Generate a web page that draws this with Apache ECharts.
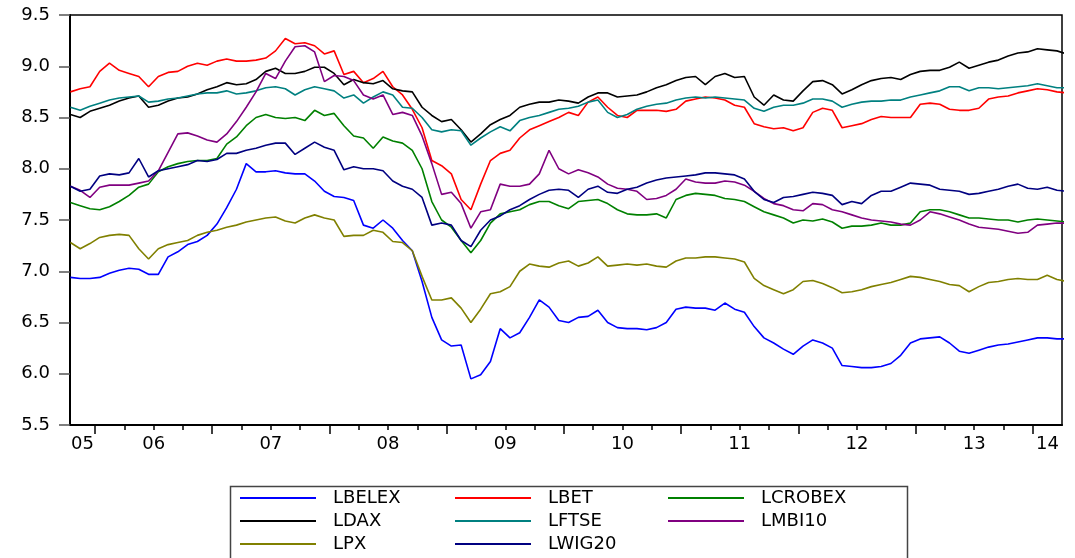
<!DOCTYPE html>
<html>
<head>
<meta charset="utf-8">
<script src="https://cdn.jsdelivr.net/npm/echarts@6.0.0/dist/echarts.min.js"></script>
<style>
html,body{margin:0;padding:0;background:#fff;}
#chart{width:1075px;height:558px;}
</style>
</head>
<body>
<div id="chart"></div>
<script>
// Monthly observations, first point mid-October 2005
const START = 2005.79;
const STEP = 1 / 12;

const LBELEX = [6.94,6.93,6.93,6.94,6.98,7.01,7.03,7.02,6.97,6.97,
 7.14,7.19,7.26,7.29,7.35,7.46,7.62,7.80,8.05,7.97,
 7.97,7.98,7.96,7.95,7.95,7.88,7.78,7.73,7.72,7.69,
 7.45,7.42,7.50,7.42,7.30,7.20,6.90,6.55,6.33,6.27,
 6.28,5.95,5.99,6.12,6.44,6.35,6.40,6.55,6.72,6.65,
 6.52,6.50,6.55,6.56,6.62,6.50,6.45,6.44,6.44,6.43,
 6.45,6.50,6.63,6.65,6.64,6.64,6.62,6.69,6.63,6.60,
 6.46,6.35,6.30,6.24,6.19,6.27,6.33,6.30,6.25,6.08,
 6.07,6.06,6.06,6.07,6.10,6.18,6.30,6.34,6.35,6.36,
 6.30,6.22,6.20,6.23,6.26,6.28,6.29,6.31,6.33,6.35,
 6.35,6.34,6.34];

const LBET = [8.75,8.78,8.80,8.95,9.03,8.96,8.93,8.90,8.80,8.90,
 8.94,8.95,9.00,9.03,9.01,9.05,9.07,9.05,9.05,9.06,
 9.08,9.15,9.27,9.22,9.23,9.20,9.12,9.15,8.92,8.95,
 8.84,8.88,8.95,8.80,8.72,8.58,8.40,8.08,8.03,7.95,
 7.70,7.60,7.85,8.08,8.15,8.18,8.30,8.38,8.42,8.46,
 8.50,8.55,8.52,8.65,8.70,8.60,8.52,8.50,8.57,8.57,
 8.57,8.56,8.58,8.66,8.68,8.70,8.69,8.67,8.62,8.60,
 8.44,8.41,8.39,8.40,8.37,8.40,8.55,8.59,8.57,8.40,
 8.42,8.44,8.48,8.51,8.50,8.50,8.50,8.63,8.64,8.63,
 8.58,8.57,8.57,8.59,8.68,8.70,8.71,8.74,8.76,8.78,
 8.77,8.75,8.74];

const LCROBEX = [7.67,7.64,7.61,7.60,7.63,7.68,7.74,7.82,7.85,7.97,
 8.02,8.05,8.07,8.08,8.08,8.10,8.24,8.31,8.42,8.50,
 8.53,8.50,8.49,8.50,8.47,8.57,8.52,8.54,8.42,8.32,
 8.30,8.20,8.31,8.27,8.25,8.18,8.00,7.68,7.50,7.43,
 7.30,7.18,7.30,7.47,7.56,7.58,7.60,7.65,7.68,7.68,
 7.64,7.61,7.68,7.69,7.70,7.66,7.60,7.56,7.55,7.55,
 7.56,7.52,7.70,7.74,7.76,7.75,7.74,7.71,7.70,7.68,
 7.63,7.58,7.55,7.52,7.47,7.50,7.49,7.51,7.48,7.42,
 7.44,7.44,7.45,7.47,7.45,7.45,7.47,7.58,7.60,7.60,
 7.58,7.55,7.52,7.52,7.51,7.50,7.50,7.48,7.50,7.51,
 7.50,7.49,7.48];

const LDAX = [8.53,8.50,8.56,8.59,8.62,8.66,8.69,8.71,8.60,8.62,
 8.66,8.69,8.70,8.73,8.77,8.80,8.84,8.82,8.83,8.87,
 8.95,8.98,8.93,8.93,8.95,8.99,8.99,8.93,8.82,8.87,
 8.84,8.83,8.86,8.78,8.76,8.75,8.60,8.52,8.46,8.48,
 8.38,8.26,8.34,8.43,8.48,8.52,8.60,8.63,8.65,8.65,
 8.67,8.66,8.64,8.70,8.74,8.74,8.70,8.71,8.72,8.75,
 8.79,8.82,8.86,8.89,8.90,8.82,8.90,8.93,8.89,8.90,
 8.70,8.62,8.72,8.67,8.66,8.76,8.85,8.86,8.82,8.73,
 8.77,8.82,8.86,8.88,8.89,8.87,8.92,8.95,8.96,8.96,
 8.99,9.04,8.98,9.01,9.04,9.06,9.10,9.13,9.14,9.17,
 9.16,9.15,9.12];

const LFTSE = [8.60,8.57,8.61,8.64,8.67,8.69,8.70,8.71,8.65,8.66,
 8.68,8.69,8.71,8.73,8.74,8.74,8.76,8.73,8.74,8.76,
 8.79,8.80,8.78,8.72,8.77,8.80,8.78,8.76,8.69,8.72,
 8.64,8.70,8.75,8.72,8.60,8.59,8.50,8.38,8.36,8.38,
 8.37,8.23,8.30,8.36,8.41,8.37,8.47,8.50,8.52,8.55,
 8.58,8.59,8.61,8.65,8.67,8.55,8.50,8.53,8.58,8.61,
 8.63,8.64,8.67,8.69,8.70,8.69,8.70,8.69,8.68,8.67,
 8.59,8.56,8.60,8.62,8.62,8.64,8.68,8.68,8.66,8.60,
 8.63,8.65,8.66,8.66,8.67,8.67,8.70,8.72,8.74,8.76,
 8.80,8.80,8.76,8.79,8.79,8.78,8.79,8.80,8.81,8.83,
 8.81,8.79,8.79];

const LMBI10 = [7.83,7.79,7.72,7.82,7.84,7.84,7.84,7.86,7.88,7.98,
 8.16,8.34,8.35,8.32,8.28,8.26,8.34,8.46,8.60,8.75,
 8.93,8.88,9.05,9.19,9.20,9.14,8.85,8.91,8.90,8.86,
 8.72,8.68,8.72,8.53,8.55,8.52,8.32,8.05,7.75,7.77,
 7.66,7.42,7.58,7.60,7.85,7.83,7.83,7.85,7.95,8.18,
 8.00,7.95,7.99,7.96,7.92,7.85,7.81,7.80,7.78,7.70,
 7.71,7.74,7.80,7.90,7.87,7.86,7.86,7.88,7.87,7.84,
 7.78,7.71,7.66,7.64,7.60,7.59,7.66,7.65,7.60,7.58,
 7.55,7.52,7.50,7.49,7.48,7.46,7.45,7.50,7.58,7.56,
 7.53,7.50,7.46,7.43,7.42,7.41,7.39,7.37,7.38,7.45,
 7.46,7.47,7.47];

const LPX = [7.28,7.22,7.27,7.33,7.35,7.36,7.35,7.22,7.12,7.22,
 7.26,7.28,7.30,7.35,7.38,7.40,7.43,7.45,7.48,7.50,
 7.52,7.53,7.49,7.47,7.52,7.55,7.52,7.50,7.34,7.35,
 7.35,7.40,7.38,7.29,7.28,7.20,6.95,6.72,6.72,6.74,
 6.64,6.50,6.63,6.78,6.80,6.85,7.00,7.07,7.05,7.04,
 7.08,7.10,7.05,7.08,7.14,7.05,7.06,7.07,7.06,7.07,
 7.05,7.04,7.10,7.13,7.13,7.14,7.14,7.13,7.12,7.09,
 6.93,6.86,6.82,6.78,6.82,6.90,6.91,6.88,6.84,6.79,
 6.80,6.82,6.85,6.87,6.89,6.92,6.95,6.94,6.92,6.90,
 6.87,6.86,6.80,6.85,6.89,6.90,6.92,6.93,6.92,6.92,
 6.96,6.92,6.90];

const LWIG20 = [7.83,7.78,7.80,7.93,7.95,7.94,7.96,8.10,7.92,7.98,
 8.00,8.02,8.04,8.08,8.07,8.09,8.15,8.15,8.18,8.20,
 8.23,8.25,8.25,8.14,8.20,8.26,8.21,8.18,7.99,8.02,
 8.00,8.00,7.98,7.88,7.83,7.80,7.72,7.45,7.47,7.45,
 7.30,7.24,7.40,7.50,7.54,7.60,7.64,7.70,7.75,7.79,
 7.80,7.79,7.72,7.80,7.83,7.77,7.76,7.80,7.82,7.86,
 7.89,7.91,7.92,7.93,7.94,7.96,7.96,7.95,7.94,7.90,
 7.78,7.70,7.67,7.72,7.73,7.75,7.77,7.76,7.74,7.65,
 7.68,7.66,7.74,7.78,7.78,7.82,7.86,7.85,7.84,7.80,
 7.79,7.78,7.75,7.76,7.78,7.80,7.83,7.85,7.81,7.80,
 7.82,7.79,7.78];

const SERIES_NAMES = ['LBELEX','LBET','LCROBEX','LDAX','LFTSE','LMBI10','LPX','LWIG20'];
const SERIES_VALUES = [LBELEX, LBET, LCROBEX, LDAX, LFTSE, LMBI10, LPX, LWIG20];
const COLORS = ['#0000ff','#ff0000','#008000','#000000','#008080','#800080','#808000','#000080'];

// Axis
const X_MIN = 2005.7865, X_MAX = 2014.2495;
const YEAR_TICKS = [2006,2007,2008,2009,2010,2011,2012,2013,2014];
const QUARTER_TICKS = [2006.25,2006.5,2006.75,2007.25,2007.5,2007.75,2008.25,2008.5,2008.75,
 2009.25,2009.5,2009.75,2010.25,2010.5,2010.75,2011.25,2011.5,2011.75,2012.25,2012.5,2012.75,
 2013.25,2013.5,2013.75];
const YEAR_LABELS = ['05','06','07','08','09','10','11','12','13','14'];
// label positions: middle of each (visible) year
const YEAR_LABEL_POS = [2005.893,2006.5,2007.5,2008.5,2009.5,2010.5,2011.5,2012.5,2013.5,2014.125];

const FONT = 'DejaVu Sans';

const chart = echarts.init(document.getElementById('chart'), null, {renderer: 'canvas'});

const series = SERIES_NAMES.map((name, k) => ({
  name: name,
  type: 'line',
  xAxisIndex: 0,
  yAxisIndex: 0,
  showSymbol: false,
  symbol: 'none',
  animation: false,
  color: COLORS[k],
  lineStyle: {width: 1.6, color: COLORS[k]},
  data: SERIES_VALUES[k].map((v, i) => [START + i * STEP, v])
}));

function legendCol(left, names) {
  return {
    data: names,
    orient: 'vertical',
    left: left,
    top: 489,
    padding: 0,
    itemGap: 5,
    itemWidth: 76,
    itemHeight: 2,
    icon: 'rect',
    selectedMode: false,
    textStyle: {fontFamily: FONT, fontSize: 18, color: '#000', padding: [0, 0, 0, 12]}
  };
}

function yearLabel(v) {
  const idx = Math.min(YEAR_LABELS.length - 1, Math.max(0, Math.floor(v + 1e-9) - 2005));
  return YEAR_LABELS[idx];
}

// one label-only axis per year label (avoids automatic min/max label hiding)
function labelAxis(pos) {
  return {
    type: 'value', min: X_MIN, max: X_MAX, position: 'bottom', gridIndex: 0,
    axisLine: {show: false},
    axisTick: {show: false},
    axisLabel: {show: true, margin: 10, fontFamily: FONT, fontSize: 18, color: '#000',
      hideOverlap: false, showMinLabel: true, showMaxLabel: true,
      customValues: [pos], formatter: yearLabel},
    splitLine: {show: false}
  };
}

chart.setOption({
  backgroundColor: '#fff',
  animation: false,
  grid: {left: 70, right: 13, top: 15, bottom: 133, show: true, borderColor: '#000', borderWidth: 1.5, backgroundColor: 'transparent'},
  xAxis: [{
    type: 'value', min: X_MIN, max: X_MAX, position: 'bottom',
    axisLine: {show: true, onZero: false, lineStyle: {color: '#000', width: 2}},
    axisTick: {show: true, inside: false, length: 9, lineStyle: {color: '#000', width: 1.5}, customValues: YEAR_TICKS},
    axisLabel: {show: false},
    splitLine: {show: false}
  }, {
    type: 'value', min: X_MIN, max: X_MAX, position: 'bottom', gridIndex: 0,
    axisLine: {show: false},
    axisTick: {show: true, inside: false, length: 5, lineStyle: {color: '#000', width: 1.5}, customValues: QUARTER_TICKS},
    axisLabel: {show: false},
    splitLine: {show: false}
  }].concat(YEAR_LABEL_POS.map(labelAxis)),
  yAxis: {
    type: 'value', min: 5.5, max: 9.5, interval: 0.5,
    axisLine: {show: true, onZero: false, lineStyle: {color: '#000', width: 2}},
    axisTick: {show: true, inside: false, length: 11, lineStyle: {color: '#555', width: 1.5}},
    axisLabel: {margin: 20, fontFamily: FONT, fontSize: 18, color: '#000',
      formatter: function (v) { return v.toFixed(1); }},
    splitLine: {show: false}
  },
  legend: [
    legendCol(240, ['LBELEX','LDAX','LPX']),
    legendCol(455, ['LBET','LFTSE','LWIG20']),
    legendCol(668, ['LCROBEX','LMBI10'])
  ],
  graphic: [{
    type: 'rect', left: 228, top: 484, silent: true,
    shape: {width: 677, height: 100},
    style: {fill: 'none', stroke: '#444', lineWidth: 1.5}
  }],
  series: series
});
</script>
</body>
</html>
